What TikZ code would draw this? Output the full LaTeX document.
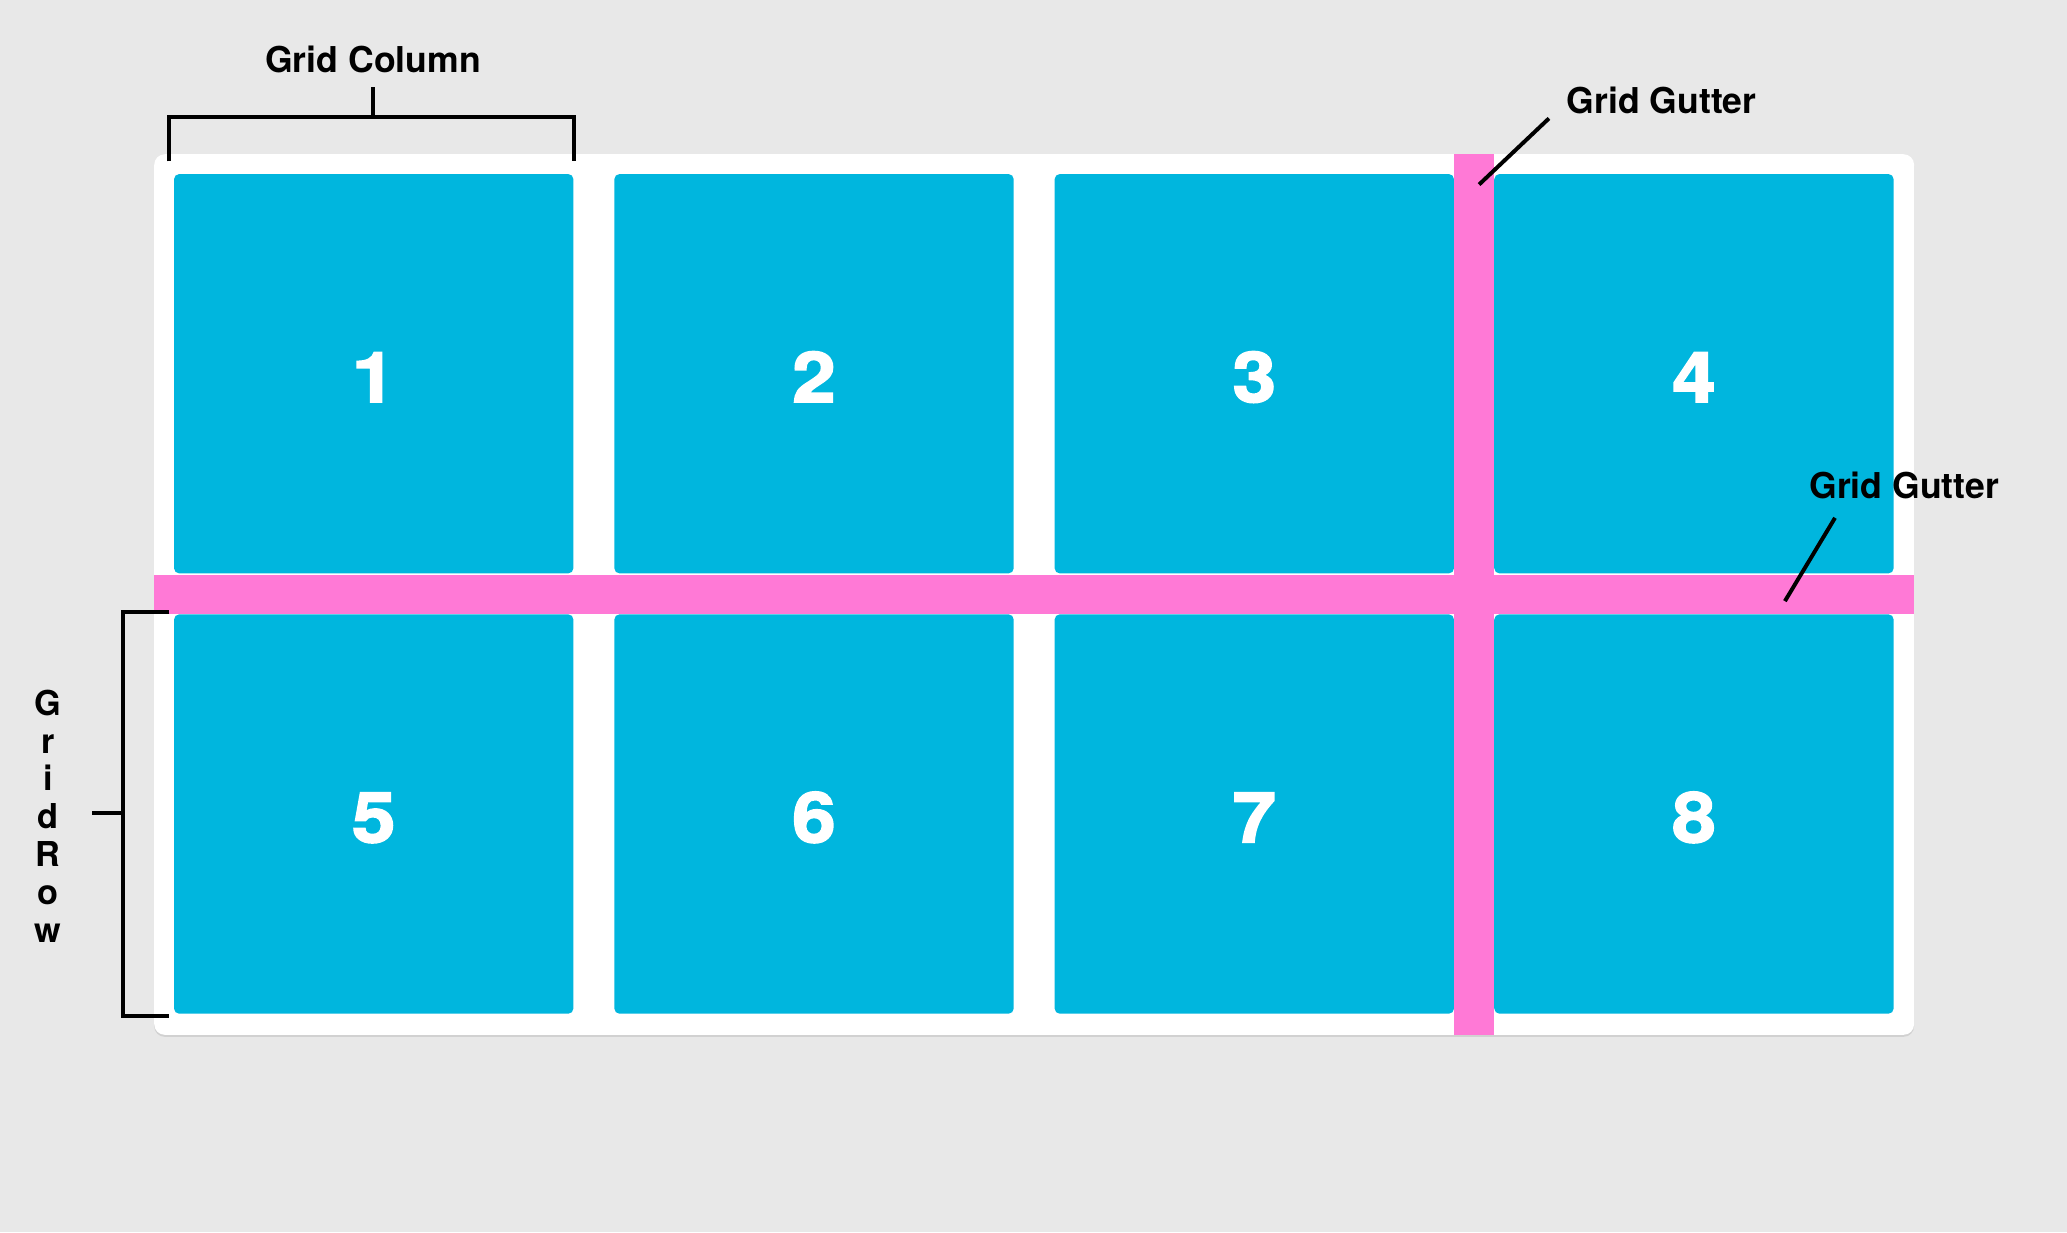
\documentclass[tikz,border=0pt]{standalone}
\usepackage{fontspec}
\setmainfont{TeX Gyre Heros}
\newfontfamily\numfont{TeX Gyre Heros}[BoldFeatures={FakeBold=2.4,FakeStretch=1.12}]
\usetikzlibrary{shadows}

\definecolor{bggrey}{HTML}{E8E8E8}
\definecolor{cellblue}{HTML}{00B6DE}
\definecolor{gutterpink}{HTML}{FF79D6}

\begin{document}
\begin{tikzpicture}[x=1pt,y=-1pt,line width=3pt,line join=miter]
	\tikzstyle{panel}=[rectangle,fill=white,rounded corners=8pt,inner sep=0pt,
	                   minimum width=1335pt,minimum height=668pt,
	                   drop shadow={shadow xshift=0pt,shadow yshift=-1.5pt,fill=black!18,opacity=1}]
	\tikzstyle{cell}=[rectangle,fill=cellblue,rounded corners=4pt,inner sep=0pt,
	                  minimum width=303pt,minimum height=303pt,text=white,
	                  text height=43pt,text depth=0pt,
	                  font=\fontsize{53}{60}\selectfont\numfont\bfseries]
	\tikzstyle{gutter}=[rectangle,fill=gutterpink,inner sep=0pt]
	\tikzstyle{label}=[inner sep=0pt,font=\fontsize{27}{32}\selectfont\bfseries]
	\tikzstyle{bracket}=[draw=black,line width=3pt]

	% background and board
	\fill[bggrey] (0,0) rectangle (1568,934.6);
	\useasboundingbox (0,0) rectangle (1568,934.6);
	\node[panel] (board) at (784.5,451) {};

	% grid items
	\node[cell] (c1) at (283.5,283.5) {1};
	\node[cell] (c2) at (617.5,283.5) {2};
	\node[cell] (c3) at (951.5,283.5) {3};
	\node[cell] (c4) at (1285,283.5)  {4};
	\node[cell] (c5) at (283.5,617.5) {5};
	\node[cell] (c6) at (617.5,617.5) {6};
	\node[cell] (c7) at (951.5,617.5) {7};
	\node[cell] (c8) at (1285,617.5)  {8};

	% gutters
	\node[gutter,minimum width=30pt,minimum height=668pt]  (vgutter) at (1118,451)  {};
	\node[gutter,minimum width=1335pt,minimum height=30pt] (hgutter) at (784.5,451) {};

	% labels
	\node[label,anchor=base] (colLabel) at (283,55) {Grid Column};
	\node[label,anchor=base west] (gutTop) at (1187,86) {Grid Gutter};
	\node[label,anchor=base west] (gutRight) at (1371,378) {Grid Gutter};
	\node[inner sep=0pt,align=center,font=\fontsize{26}{28.7}\selectfont\bfseries]
	     (rowLabel) at (36.5,619) {G\\r\\i\\d\\R\\o\\w};

	\coordinate (colStem) at (283,66);
	\coordinate (rowStem) at (70,617);
	\coordinate (vgTip)   at (1122,140);
	\coordinate (hgTip)   at (1354,456);

	% brackets and leaders
	\draw[bracket] ([shift={(-2,-8)}]c1.north west) -- ++(0,-34) -| ([shift={(-1,-8)}]c1.north east);
	\draw[bracket] (colStem) -- (colStem |- 0,90);
	\draw[bracket] ([shift={(-2,0)}]c5.north west) -- ++(-35,0) |- ([shift={(-2,0)}]c5.south west);
	\draw[bracket] (rowStem) -- (95,617);
	\draw[bracket] ([shift={(-12,2)}]gutTop.south west) -- (vgTip);
	\draw[bracket] ([shift={(21,13)}]gutRight.south west) -- (hgTip);
\end{tikzpicture}
\end{document}
